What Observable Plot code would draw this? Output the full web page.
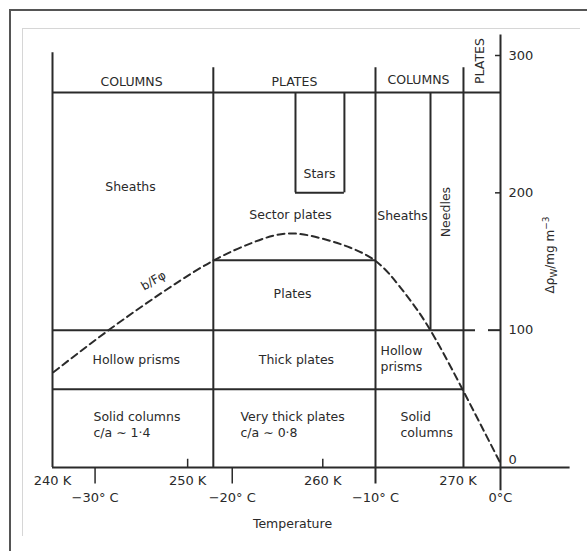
<!DOCTYPE html>
<html><head><meta charset="utf-8">
<script src="https://cdn.jsdelivr.net/npm/d3@7"></script>
<script src="https://cdn.jsdelivr.net/npm/@observablehq/plot@0.6"></script>
<style>
body{margin:0;background:#fff;width:587px;height:551px;overflow:hidden;position:relative;font-family:"DejaVu Sans",sans-serif;}
#outer{position:absolute;left:9px;top:9px;width:600px;height:600px;border-left:2px solid #555;border-top:2px solid #555;}
#inner{position:absolute;left:22px;top:28px;width:557px;height:507px;border-left:1px solid #d6d6d6;border-top:1px solid #d6d6d6;}
#chart{position:absolute;left:0;top:0;}
#ylab{position:absolute;left:550px;top:255px;transform:translate(-50%,-50%) rotate(-90deg);white-space:nowrap;font-size:12px;color:#2b2b2b;}
</style></head><body>
<div id="outer"></div><div id="inner"></div><div id="chart"></div>
<div id="ylab">Δρ<sub style="font-size:9px">W</sub>/mg m<sup style="font-size:9px">−3</sup></div>
<script>
// ---- data (temperature in K, vapour density excess Δρ in mg m^-3) ----
// vertical boundaries: temperature, lower Δρ, upper Δρ
const boundaryT    = [240, 251.9, 263.9, 267.97, 270.41, 273.15, 257.98, 261.6];
const boundaryFrom = [0,   0,     -12,   100,    0,      -17,    200,    200];
const boundaryTo   = [302, 291,   291,   273,    291,    315,    273,    273];
// horizontal boundaries: Δρ level, from T, to T
const levelV    = [273,    200,    151,   100,    100,    57,     0];
const levelFrom = [240,    257.98, 251.9, 240,    272.26, 240,    240];
const levelTo   = [273.15, 261.6,  263.9, 271.3,  273.15, 270.41, 278.3];
// dashed curve
const curveT = [240.07, 244.29, 248.51, 251.91, 254.87, 257.39, 259.83, 262.05, 264.05, 265.75, 267.75, 270.19, 273.15];
const curveV = [69.4,   101,    130,    150.7,  164,    170.4,  167,    160,    149.3,  131,    103.4,  59.7,   3];
// axes
const kelvinTicks  = [240, 250, 260, 270];
const kelvinMinor  = [250, 260];
const celsiusLabels = ["−30° C", "−20° C", "−10° C", "0°C"];
const celsiusAt     = [243.15, 253.3, 263.9, 273.15];
const celsiusMinor  = [243.15, 253.3];
const rhoTicks = [100, 200, 300];
const rhoZero = [0];
const rhoMinor = [200, 300];
// habit headers
const headerNames = ["COLUMNS", "PLATES", "COLUMNS"];
const headerT = [245.85, 257.9, 267.08];
const headerV = [281, 281, 282];
// habit region names (single line, centred)
const regionNames = ["Sheaths", "Stars", "Sector plates", "Sheaths", "Plates", "Hollow prisms", "Thick plates"];
const regionT = [245.77, 259.76, 257.61, 265.9, 257.76, 246.2, 258.05];
const regionV = [203.9, 214, 183.5, 183, 126, 78, 78];
// habit region names (two lines, left edge given)
const blockNames = ["Hollow\nprisms", "Solid columns\nc/a ∼ 1·4", "Very thick plates\nc/a ∼ 0·8", "Solid\ncolumns"];
const blockT = [264.27, 243.03, 253.91, 265.75];
const blockV = [80, 31.7, 31.7, 31.7];
// rotated names
const rotatedNames = ["Needles", "PLATES"];
const rotatedT = [269.15, 271.67];
const rotatedV = [186, 296];
const curveLabel = "b/Fφ";

// ---- tables ----
const vLines = boundaryT.map((t, i) => ({t, from: boundaryFrom[i], to: boundaryTo[i]}));
const hLines = levelV.map((v, i) => ({v, from: levelFrom[i], to: levelTo[i]}));
const curve = curveT.map((t, i) => ({t, v: curveV[i]}));
const headers = headerNames.map((n, i) => ({n, t: headerT[i], v: headerV[i]}));
const regions = regionNames.map((n, i) => ({n, t: regionT[i], v: regionV[i]}));
const blocks = blockNames.map((n, i) => ({n, t: blockT[i], v: blockV[i]}));
const rotated = rotatedNames.map((n, i) => ({n, t: rotatedT[i], v: rotatedV[i]}));
const celsius = celsiusLabels.map((n, i) => ({n, t: celsiusAt[i]}));

const ink = "#2a2a2a";
const plot = Plot.plot({
  width: 587, height: 551,
  marginTop: 0, marginRight: 0, marginBottom: 0, marginLeft: 0,
  x: {domain: [240, 273.15], range: [52, 500], axis: null},
  y: {domain: [0, 300], range: [467, 55], axis: null},
  style: {background: "transparent", fontFamily: "'DejaVu Sans', sans-serif", fontSize: "12.5px", color: ink, overflow: "visible"},
  marks: [
    Plot.ruleX(vLines, {x: "t", y1: "from", y2: "to", stroke: ink, strokeWidth: 2}),
    Plot.ruleY(hLines, {y: "v", x1: "from", x2: "to", stroke: ink, strokeWidth: 2}),
    Plot.ruleX(kelvinMinor, {x: d => d, y1: 0, y2: 6, stroke: ink, strokeWidth: 1.5}),
    Plot.ruleX(celsiusMinor, {x: d => d, y1: 0, y2: -12, stroke: ink, strokeWidth: 1.5}),
    Plot.ruleY(rhoMinor, {y: d => d, x1: 272.78, x2: 273.15, stroke: ink, strokeWidth: 1.5}),
    Plot.line(curve, {x: "t", y: "v", curve: "natural", stroke: ink, strokeWidth: 2, strokeDasharray: "7,4.5"}),
    Plot.text(kelvinTicks, {x: d => d, y: 0, text: d => `${d} K`, dy: 13, fill: ink, fontSize: 13}),
    Plot.text(celsius, {x: "t", y: 0, text: "n", dy: 30, fill: ink, fontSize: 13}),
    Plot.text(rhoTicks, {x: 273.15, y: d => d, text: d => `${d}`, dx: 8, textAnchor: "start", fill: ink, fontSize: 13}),
    Plot.text(rhoZero, {x: 273.15, y: d => d, text: d => `${d}`, dx: 8, dy: -8, textAnchor: "start", fill: ink, fontSize: 13}),
    Plot.text(headers, {x: "t", y: "v", text: "n", fill: ink, fontSize: 12.5}),
    Plot.text(regions, {x: "t", y: "v", text: "n", fill: ink, fontSize: 12.5}),
    Plot.text(blocks, {x: "t", y: "v", text: "n", fill: ink, fontSize: 12.5, lineHeight: 1.3, textAnchor: "start"}),
    Plot.text(rotated, {x: "t", y: "v", text: "n", rotate: -90, fill: ink, fontSize: 12.5}),
    Plot.text([curveLabel], {x: 247.47, y: 136, text: d => d, rotate: -30, fill: ink, fontSize: 12}),
    Plot.text(["Temperature"], {x: 257.76, y: 0, text: d => d, dy: 56, fill: ink, fontSize: 12.5})
  ]
});
document.getElementById("chart").appendChild(plot);
</script>
</body></html>
